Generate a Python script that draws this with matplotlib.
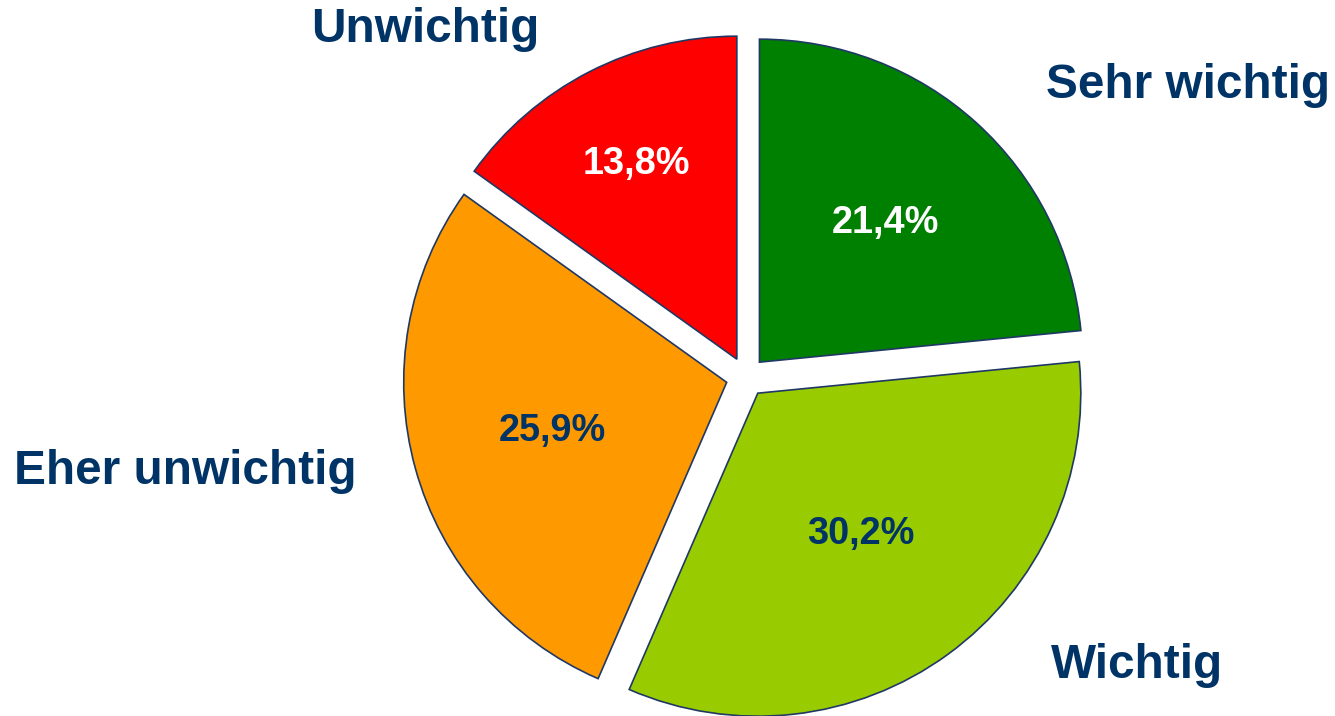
import numpy as np
import matplotlib
matplotlib.use("Agg")
import matplotlib.pyplot as plt

categories = ["Sehr wichtig", "Wichtig", "Eher unwichtig", "Unwichtig"]
values = [21.4, 30.2, 25.9, 13.8]
pct_labels = ["21,4%", "30,2%", "25,9%", "13,8%"]
colors = ["#008000", "#99CC00", "#FF9900", "#FF0000"]
pct_colors = ["white", "#003366", "#003366", "white"]
pct_dist = [0.58, 0.54, 0.56, 0.68]
label_pos = [(1188, 85), (1137, 665), (185, 472), (425, 30)]

W, H = 1335, 716
R = 323.0
cx, cy = 746, 377

plt.rcParams['font.family'] = ['Liberation Sans', 'DejaVu Sans']
fig = plt.figure(figsize=(W / 100, H / 100), dpi=100)
ax = fig.add_axes([0, 0, 1, 1])

explode = [0.062] * len(values)
wedges, _ = ax.pie(values, colors=colors, startangle=90, counterclock=False,
                   explode=explode, radius=1.0,
                   wedgeprops=dict(edgecolor="#1F3864", linewidth=1.2))
ax.set_xlim(-cx / R, (W - cx) / R)
ax.set_ylim(-(H - cy) / R, cy / R)
ax.set_aspect('equal', adjustable='datalim')
ax.axis('off')

for w, lab, c, d in zip(wedges, pct_labels, pct_colors, pct_dist):
    ang = np.deg2rad((w.theta1 + w.theta2) / 2)
    x0, y0 = w.center
    ax.text(x0 + d * np.cos(ang), y0 + d * np.sin(ang), lab, color=c,
            ha='center', va='center', fontsize=27.3, fontweight='bold')

for name, (px, py) in zip(categories, label_pos):
    fig.text(px / W, 1 - py / H, name, color="#003366", ha='center', va='center',
             fontsize=34.4, fontweight='bold')

fig.savefig("out.png", dpi=100)
